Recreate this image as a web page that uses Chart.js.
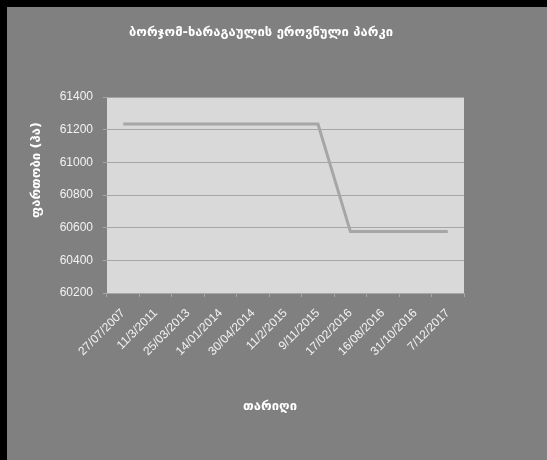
<!DOCTYPE html>
<html>
<head>
<meta charset="utf-8">
<script src="https://cdn.jsdelivr.net/npm/chart.js@4/dist/chart.umd.min.js"></script>
<style>
  body { margin: 0; background: #000; }
  #chart { position: absolute; left: 7px; top: 7px; }
</style>
</head>
<body>
<canvas id="chart" width="540" height="453"></canvas>
<script>
const dates = ['27/07/2007', '11/3/2011', '25/03/2013', '14/01/2014', '30/04/2014', '11/2/2015',
  '9/11/2015', '17/02/2016', '16/08/2016', '31/10/2016', '7/12/2017'];
const area = [61234, 61234, 61234, 61234, 61234, 61234, 61234, 60576, 60576, 60576, 60576];
const yTicks = [60200, 60400, 60600, 60800, 61000, 61200, 61400];

const chartTitle = 'ბორჯომ-ხარაგაულის ეროვნული პარკი';
const yTitle = 'ფართობი (ჰა)';
const xTitle = 'თარიღი';

// grey frame + light plot area, and the three titles (placed like the original)
const decor = {
  id: 'decor',
  beforeDraw(chart) {
    const { ctx, chartArea: a } = chart;
    ctx.save();
    ctx.fillStyle = '#808080';
    ctx.fillRect(0, 0, chart.width, chart.height);
    ctx.fillStyle = '#d9d9d9';
    ctx.fillRect(a.left, a.top, a.right - a.left, a.bottom - a.top);
    ctx.restore();
  },
  afterDraw(chart) {
    const ctx = chart.ctx;
    ctx.save();
    ctx.fillStyle = '#ffffff';
    ctx.textAlign = 'center';
    ctx.textBaseline = 'middle';
    ctx.font = 'bold 13px "DejaVu Sans"';
    ctx.fillText(chartTitle, 254, 26);
    ctx.fillText(xTitle, 263, 400);
    ctx.translate(30, 163);
    ctx.rotate(-Math.PI / 2);
    ctx.fillText(yTitle, 0, 0);
    ctx.restore();
  }
};

new Chart(document.getElementById('chart'), {
  type: 'line',
  data: {
    labels: dates,
    datasets: [{
      data: area,
      borderColor: '#a6a6a6',
      borderWidth: 3,
      pointRadius: 0,
      tension: 0
    }]
  },
  options: {
    responsive: false,
    animation: false,
    layout: { padding: { top: 90, left: 18, right: 83, bottom: 39 } },
    plugins: { legend: { display: false }, tooltip: { enabled: false } },
    scales: {
      x: {
        offset: true,
        grid: { offset: true, drawOnChartArea: false, color: '#a6a6a6', tickLength: 4 },
        border: { color: '#a6a6a6' },
        ticks: {
          color: '#f2f2f2',
          padding: 9,
          font: { family: '"Liberation Sans"', size: 12 },
          minRotation: 45, maxRotation: 45, autoSkip: false
        },
        afterFit(s) { s.height = 128; }
      },
      y: {
        min: yTicks[0],
        max: yTicks[yTicks.length - 1],
        afterBuildTicks(s) { s.ticks = yTicks.map(v => ({ value: v })); },
        grid: { color: '#a6a6a6', tickLength: 4 },
        border: { display: false },
        ticks: {
          color: '#f2f2f2',
          padding: 10,
          font: { family: '"Liberation Sans"', size: 12 },
          callback: v => String(v)
        },
        afterFit(s) { s.width = 82; }
      }
    }
  },
  plugins: [decor]
});
</script>
</body>
</html>
